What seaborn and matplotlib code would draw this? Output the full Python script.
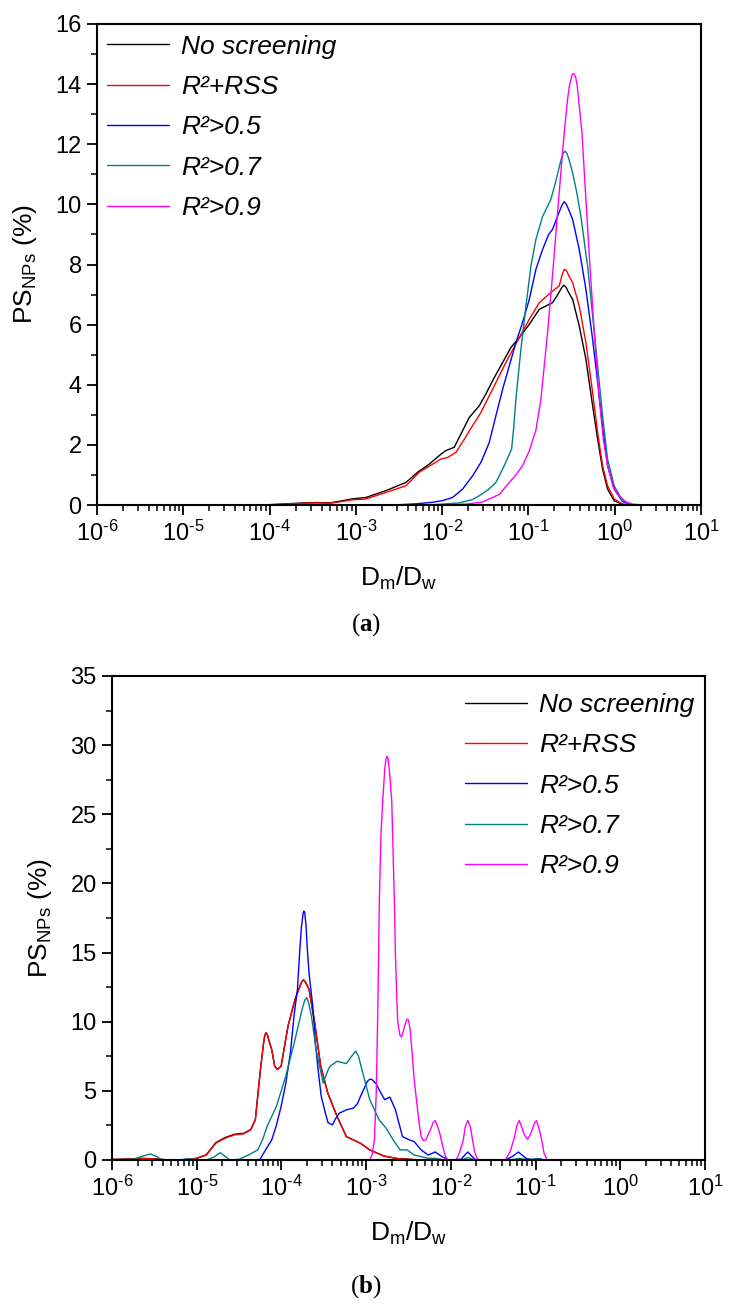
import numpy as np
import pandas as pd
import seaborn as sns
import matplotlib.pyplot as plt
from matplotlib.ticker import LogLocator, MultipleLocator, NullFormatter, FuncFormatter

sns.set_style("ticks")
plt.rcParams['font.family'] = ['Liberation Sans', 'DejaVu Sans']
plt.rcParams['mathtext.fontset'] = 'custom'
plt.rcParams['mathtext.rm'] = 'Liberation Sans'
plt.rcParams['mathtext.it'] = 'Liberation Sans:italic'
plt.rcParams['mathtext.bf'] = 'Liberation Serif:bold'
plt.rcParams['mathtext.default'] = 'regular'
for key in ['text.color', 'axes.labelcolor', 'xtick.color', 'ytick.color', 'axes.edgecolor']:
    plt.rcParams[key] = 'black'

series_names = ['No screening', 'R²+RSS', 'R²>0.5', 'R²>0.7', 'R²>0.9']
series_colors = ['#000000', '#ff0000', '#0000ff', '#008080', '#ff00ff']

# ---- panel (a): log10(Dm/Dw) and PS (%) ----
a_nos_logx = [-6, -4.2, -4.0, -3.8, -3.6, -3.45, -3.3, -3.2, -3.05, -2.883, -2.65, -2.42, -2.284,
              -2.149, -2.014, -1.956, -1.86, -1.763, -1.686, -1.57, -1.492, -1.396, -1.299, -1.203,
              -1.106, -0.99, -0.874, -0.797, -0.72, -0.66, -0.62, -0.593, -0.565, -0.54, -0.488,
              -0.411, -0.334, -0.256, -0.198, -0.141, -0.083, -0.006, 0.091, 0.17, 1]
a_nos_val = [0, 0, 0.01, 0.04, 0.07, 0.08, 0.07, 0.12, 0.2, 0.25, 0.48, 0.75, 1.09,
             1.36, 1.69, 1.81, 1.92, 2.47, 2.91, 3.3, 3.7, 4.24, 4.74, 5.24,
             5.57, 6.01, 6.51, 6.62, 6.73, 7.0, 7.2, 7.31, 7.25, 7.1, 6.84,
             5.96, 4.85, 3.3, 2.19, 1.2, 0.53, 0.14, 0.02, 0, 0]

a_rss_logx = [-6, -4.2, -4.0, -3.8, -3.6, -3.45, -3.3, -3.2, -3.05, -2.883, -2.65, -2.42, -2.265,
              -2.11, -2.014, -1.937, -1.84, -1.743, -1.647, -1.55, -1.454, -1.338, -1.241, -1.126,
              -0.99, -0.874, -0.739, -0.643, -0.61, -0.585, -0.56, -0.53, -0.488, -0.411, -0.334,
              -0.256, -0.198, -0.141, -0.083, -0.006, 0.091, 0.17, 1]
a_rss_val = [0, 0, 0.01, 0.03, 0.06, 0.07, 0.06, 0.1, 0.17, 0.2, 0.42, 0.64, 1.09,
             1.36, 1.53, 1.58, 1.75, 2.19, 2.64, 3.08, 3.63, 4.3, 4.85, 5.46,
             6.18, 6.73, 7.07, 7.29, 7.65, 7.84, 7.8, 7.62, 7.4, 6.62, 5.4,
             3.74, 2.41, 1.31, 0.64, 0.2, 0.03, 0, 0]

a_r05_logx = [-6, -3.0, -2.75, -2.497, -2.3, -2.11, -1.99, -1.879, -1.763, -1.647, -1.55, -1.454,
              -1.377, -1.299, -1.222, -1.145, -1.068, -0.99, -0.913, -0.836, -0.766, -0.72, -0.65,
              -0.61, -0.585, -0.56, -0.53, -0.488, -0.411, -0.334, -0.256, -0.198, -0.141, -0.083,
              -0.006, 0.091, 0.188, 0.3, 1]
a_r05_val = [0, 0, 0.005, 0.01, 0.04, 0.09, 0.15, 0.25, 0.53, 0.97, 1.42, 2.08,
             2.97, 3.85, 4.63, 5.4, 6.07, 6.84, 7.84, 8.5, 9.0, 9.17, 9.7,
             9.98, 10.09, 10.0, 9.8, 9.5, 8.5, 7.18, 5.51, 4.08, 2.64, 1.31,
             0.53, 0.11, 0.01, 0, 0]

a_r07_logx = [-6, -2.5, -2.11, -1.95, -1.8, -1.65, -1.57, -1.47, -1.377, -1.28, -1.235, -1.195,
              -1.17, -1.145, -1.115, -1.087, -1.058, -1.029, -0.971, -0.913, -0.836, -0.739, -0.68,
              -0.62, -0.6, -0.577, -0.555, -0.53, -0.488, -0.44, -0.392, -0.35, -0.314, -0.256,
              -0.198, -0.141, -0.083, -0.006, 0.091, 0.207, 0.3, 1]
a_r07_val = [0, 0, 0.01, 0.04, 0.07, 0.18, 0.31, 0.5, 0.75, 1.31, 1.6, 1.86,
             2.6, 3.52, 4.4, 5.18, 5.9, 6.62, 7.95, 8.84, 9.6, 10.17, 10.8,
             11.5, 11.68, 11.77, 11.7, 11.5, 11.05, 10.4, 9.6, 8.7, 7.95, 6.29,
             4.63, 2.97, 1.53, 0.64, 0.14, 0.01, 0, 0]

a_r09_logx = [-6, -2.3, -1.95, -1.724, -1.531, -1.338, -1.222, -1.145, -1.068, -0.99, -0.913,
              -0.855, -0.778, -0.712, -0.65, -0.585, -0.546, -0.525, -0.508, -0.495, -0.481, -0.465,
              -0.45, -0.435, -0.419, -0.38, -0.334, -0.287, -0.237, -0.179, -0.133, -0.083, -0.017,
              0.052, 0.13, 0.207, 0.323, 1]
a_r09_val = [0, 0, 0.01, 0.03, 0.1, 0.35, 0.75, 1.0, 1.31, 1.8, 2.5,
             3.52, 5.74, 7.95, 10.17, 12.4, 13.5, 13.95, 14.15, 14.3, 14.35, 14.32,
             14.2, 13.95, 13.5, 12.4, 10.17, 7.95, 5.74, 3.52, 2.2, 1.31, 0.6,
             0.3, 0.1, 0.03, 0, 0]

# ---- panel (b) ----
b_nos_logx = [-6, -5.8, -5.658, -5.5, -5.383, -5.2, -5.052, -4.997, -4.886, -4.776, -4.666, -4.556,
              -4.445, -4.363, -4.308, -4.252, -4.21, -4.195, -4.181, -4.165, -4.15, -4.115, -4.08,
              -4.049, -4.004, -3.922, -3.839, -3.78, -3.76, -3.74, -3.72, -3.674, -3.608, -3.536,
              -3.453, -3.343, -3.233, -3.067, -2.957, -2.792, -2.627, -2.351, 1]
b_nos_val = [0.04, 0.08, 0.12, 0.09, 0.03, 0, 0.06, 0.14, 0.38, 1.25, 1.62, 1.86,
             1.93, 2.2, 2.91, 6.3, 8.5, 9.05, 9.2, 9.05, 8.7, 7.99, 6.8,
             6.54, 6.78, 9.69, 11.62, 12.6, 12.9, 13.03, 12.9, 12.35, 9.93, 6.78,
             4.84, 3.15, 1.69, 1.21, 0.73, 0.29, 0.1, 0, 0]

b_rss_logx = [-6, -5.8, -5.658, -5.5, -5.383, -5.2, -5.052, -4.997, -4.886, -4.776, -4.666, -4.556,
              -4.445, -4.363, -4.308, -4.252, -4.21, -4.195, -4.181, -4.165, -4.15, -4.115, -4.08,
              -4.049, -4.004, -3.922, -3.839, -3.78, -3.76, -3.74, -3.72, -3.674, -3.608, -3.536,
              -3.453, -3.343, -3.233, -3.067, -2.957, -2.792, -2.627, -2.351, 1]
b_rss_val = [0.03, 0.06, 0.1, 0.08, 0.02, 0, 0.05, 0.12, 0.36, 1.21, 1.57, 1.82,
             1.89, 2.18, 2.91, 6.3, 8.5, 9.05, 9.2, 9.05, 8.7, 7.99, 6.8,
             6.54, 6.78, 9.69, 11.62, 12.6, 12.9, 13.03, 12.9, 12.35, 9.93, 6.78,
             4.84, 3.15, 1.69, 1.21, 0.73, 0.29, 0.1, 0, 0]

b_r05_logx = [-6, -4.3, -4.252, -4.2, -4.115, -4.06, -4.004, -3.95, -3.894, -3.85, -3.811, -3.785,
              -3.765, -3.745, -3.735, -3.725, -3.71, -3.695, -3.674, -3.65, -3.63, -3.6, -3.563,
              -3.53, -3.481, -3.45, -3.398, -3.36, -3.315, -3.233, -3.15, -3.1, -3.067, -2.985,
              -2.955, -2.929, -2.88, -2.847, -2.781, -2.72, -2.654, -2.571, -2.488, -2.433, -2.351,
              -2.268, -2.185, -2.103, -2.02, -1.882, -1.8, -1.717, -1.689, -1.358, -1.276, -1.204,
              -1.11, -1.028, -0.972, -0.89, 1]
b_r05_val = [0, 0, 0.05, 0.6, 1.45, 2.5, 3.87, 5.5, 7.75, 10.5, 12.35, 15.0,
             16.8, 17.8, 18.0, 17.9, 17.0, 15.3, 13.5, 12.2, 11.14, 8.5, 6.3,
             4.6, 3.39, 2.7, 2.54, 3.0, 3.39, 3.63, 3.75, 4.1, 4.6, 5.69,
             5.85, 5.81, 5.5, 5.08, 4.36, 4.55, 3.63, 1.69, 1.45, 1.33, 0.73,
             0.36, 0.58, 0.24, 0, 0.05, 0.58, 0.05, 0, 0, 0.24, 0.58,
             0.12, 0, 0.1, 0, 0]

b_r07_logx = [-6, -5.75, -5.658, -5.548, -5.47, -5.41, -5.2, -5.107, -5.052, -4.886, -4.8, -4.721,
              -4.65, -4.611, -4.501, -4.39, -4.28, -4.22, -4.17, -4.06, -3.949, -3.839, -3.756,
              -3.725, -3.701, -3.68, -3.646, -3.591, -3.508, -3.45, -3.426, -3.343, -3.233, -3.16,
              -3.122, -3.09, -3.04, -2.957, -2.847, -2.764, -2.681, -2.599, -2.516, -2.433, -2.351,
              -2.268, -2.185, -2.075, -1.85, -1.799, -1.744, -1.689, -1.3, -1.193, -1.1, -0.983,
              -0.89, 1]
b_r07_val = [0, 0.05, 0.24, 0.44, 0.24, 0, 0, 0.1, 0.05, 0, 0.2, 0.53,
             0.2, 0, 0.05, 0.36, 0.73, 1.5, 2.42, 3.87, 6.05, 8.72, 10.9,
             11.55, 11.74, 11.4, 10.41, 7.99, 5.57, 6.5, 6.78, 7.14, 6.97, 7.6,
             7.87, 7.5, 6.3, 4.36, 2.91, 2.3, 1.45, 0.73, 0.73, 0.36, 0.24,
             0.12, 0.12, 0, 0.05, 0.18, 0.05, 0, 0, 0.12, 0.03, 0.1,
             0, 0]

b_r09_logx = [-6, -2.98, -2.957, -2.929, -2.902, -2.88, -2.862, -2.844, -2.825, -2.804, -2.78,
              -2.765, -2.753, -2.74, -2.72, -2.698, -2.683, -2.667, -2.655, -2.64, -2.627, -2.6,
              -2.582, -2.544, -2.525, -2.51, -2.495, -2.48, -2.461, -2.433, -2.406, -2.378, -2.351,
              -2.323, -2.295, -2.268, -2.24, -2.21, -2.185, -2.16, -2.13, -2.1, -2.075, -2.05,
              -2.02, -1.937, -1.9, -1.854, -1.83, -1.8, -1.77, -1.744, -1.72, -1.689, -1.662,
              -1.358, -1.3, -1.248, -1.22, -1.193, -1.165, -1.138, -1.11, -1.094, -1.065, -1.039,
              -1.01, -0.989, -0.96, -0.928, -0.9, -0.862, 1]
b_r09_val = [0, 0, 0, 0.4, 1.45, 5.0, 11.0, 18.8, 23.5, 26.0, 28.3,
             29.0, 29.2, 29.0, 27.8, 26.0, 22.5, 18.8, 15.0, 12.0, 10.0, 9.0,
             8.9, 9.7, 10.1, 10.2, 10.0, 9.4, 8.0, 5.8, 4.36, 2.8, 1.7,
             1.4, 1.45, 1.85, 2.2, 2.7, 2.86, 2.5, 1.9, 1.1, 0.48, 0.1,
             0, 0, 0.5, 1.45, 2.4, 2.86, 2.4, 1.45, 0.6, 0.1, 0,
             0, 0.6, 1.69, 2.5, 2.86, 2.4, 1.9, 1.6, 1.5, 1.8, 2.2,
             2.7, 2.86, 2.3, 1.45, 0.5, 0, 0]

panel_a = [(a_nos_logx, a_nos_val), (a_rss_logx, a_rss_val), (a_r05_logx, a_r05_val),
           (a_r07_logx, a_r07_val), (a_r09_logx, a_r09_val)]
panel_b = [(b_nos_logx, b_nos_val), (b_rss_logx, b_rss_val), (b_r05_logx, b_r05_val),
           (b_r07_logx, b_r07_val), (b_r09_logx, b_r09_val)]


def make_frame(panel):
    parts = []
    for name, (lx, v) in zip(series_names, panel):
        parts.append(pd.DataFrame({'x': np.power(10.0, lx), 'y': v, 'series': name}))
    return pd.concat(parts, ignore_index=True)


def decade_label(val, pos):
    exp = int(round(np.log10(val)))
    return r'$10^{\text{%d}}$' % exp


W, H = 732, 1306
fig = plt.figure(figsize=(W / 100, H / 100), dpi=100)
ax_a = fig.add_axes([97 / W, 1 - 505 / H, 604 / W, 481 / H])
ax_b = fig.add_axes([112 / W, 1 - 1160 / H, 593 / W, 484 / H])

palette = dict(zip(series_names, series_colors))

for ax, panel, ymax, ystep, leg_xy in [(ax_a, panel_a, 16, 2, (0.017, 0.978)),
                                       (ax_b, panel_b, 35, 5, (0.595, 0.965))]:
    ax.set_xscale('log')
    sns.lineplot(data=make_frame(panel), x='x', y='y', hue='series', hue_order=series_names,
                 palette=palette, estimator=None, sort=False, linewidth=1.0, ax=ax)
    ax.set_xlim(1e-6, 10)
    ax.set_ylim(0, ymax)
    ax.yaxis.set_major_locator(MultipleLocator(ystep))
    ax.yaxis.set_minor_locator(MultipleLocator(ystep / 2))
    ax.xaxis.set_major_locator(LogLocator(base=10, numticks=20))
    ax.xaxis.set_major_formatter(FuncFormatter(decade_label))
    ax.xaxis.set_minor_locator(LogLocator(base=10, subs=np.arange(2, 10), numticks=20))
    ax.xaxis.set_minor_formatter(NullFormatter())
    ax.tick_params(which='major', direction='out', length=7, width=1.3, labelsize=17, pad=4)
    ax.tick_params(which='minor', direction='out', length=4, width=1.1)
    for s in ax.spines.values():
        s.set_linewidth(1.5)
        s.set_color('black')
    ax.set_xlabel('D$_m$/D$_w$', fontsize=19, labelpad=14)
    ax.set_ylabel('PS$_{NPs}$ (%)', fontsize=19, labelpad=12)
    handles, labels = ax.get_legend_handles_labels()
    ax.legend(handles, labels, loc='upper left', bbox_to_anchor=leg_xy, frameon=False,
              prop={'family': 'Liberation Sans', 'style': 'italic', 'size': 19},
              handlelength=2.35, handletextpad=0.45, labelspacing=0.62, borderpad=0,
              borderaxespad=0)

fig.text(366 / W, 1 - 625 / H, r'($\mathbf{a}$)', ha='center', va='center',
         family='Liberation Serif', fontsize=18)
fig.text(366 / W, 1 - 1287 / H, r'($\mathbf{b}$)', ha='center', va='center',
         family='Liberation Serif', fontsize=18)

fig.savefig('out.png', dpi=100)
